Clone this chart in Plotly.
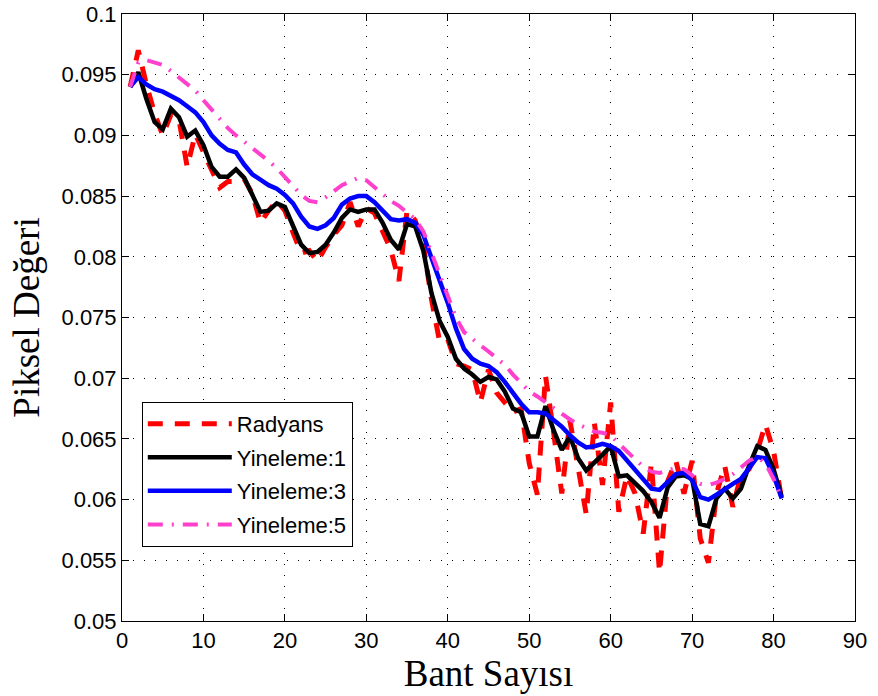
import plotly.graph_objects as go

bands = list(range(1, 82))

radyans = [0.0940, 0.0970, 0.0942, 0.0918, 0.0900, 0.0917, 0.0913, 0.0874, 0.0901, 0.0886,
           0.0872, 0.0857, 0.0862, 0.0862, 0.0864, 0.0852, 0.0828, 0.0838, 0.0846, 0.0838,
           0.0820, 0.0803, 0.0805, 0.0796, 0.0808, 0.0818, 0.0826, 0.0845, 0.0825, 0.0840,
           0.0836, 0.0822, 0.0806, 0.0780, 0.0838, 0.0830, 0.0810, 0.0765, 0.0730, 0.0732,
           0.0712, 0.0710, 0.0707, 0.0680, 0.0707, 0.0688, 0.0680, 0.0672, 0.0675, 0.0630,
           0.0604, 0.0702, 0.0655, 0.0605, 0.0665, 0.0625, 0.0588, 0.0663, 0.0612, 0.0680,
           0.0590, 0.0620, 0.0605, 0.0572, 0.0630, 0.0540, 0.0615, 0.0632, 0.0605, 0.0632,
           0.0568, 0.0548, 0.0605, 0.0628, 0.0594, 0.0620, 0.0625, 0.0640, 0.0662, 0.0640,
           0.0600]

yineleme1 = [0.0940, 0.0952, 0.0930, 0.0911, 0.0905, 0.0922, 0.0915, 0.0899, 0.0904, 0.0892,
             0.0874, 0.0866, 0.0866, 0.0872, 0.0865, 0.0850, 0.0837, 0.0838, 0.0844, 0.0841,
             0.0826, 0.0810, 0.0803, 0.0804, 0.0810, 0.0820, 0.0832, 0.0839, 0.0837, 0.0839,
             0.0839, 0.0828, 0.0814, 0.0806, 0.0827, 0.0825, 0.0805, 0.0770, 0.0747, 0.0734,
             0.0716, 0.0708, 0.0703, 0.0697, 0.0701, 0.0699, 0.0689, 0.0675, 0.0672, 0.0652,
             0.0652, 0.0677, 0.0657, 0.0641, 0.0652, 0.0634, 0.0624, 0.0630, 0.0637, 0.0644,
             0.0619, 0.0620, 0.0613, 0.0607, 0.0598, 0.0585, 0.0610, 0.0619, 0.0620, 0.0617,
             0.0580, 0.0578, 0.0601, 0.0609, 0.0601, 0.0609, 0.0628, 0.0644, 0.0641, 0.0625,
             0.0602]

yineleme3 = [0.0940, 0.0948, 0.0942, 0.0938, 0.0936, 0.0933, 0.0929, 0.0924, 0.0919, 0.0911,
             0.0900, 0.0893, 0.0888, 0.0886, 0.0876, 0.0868, 0.0863, 0.0859, 0.0856, 0.0851,
             0.0844, 0.0833, 0.0825, 0.0823, 0.0826, 0.0832, 0.0843, 0.0848, 0.0850, 0.0850,
             0.0845, 0.0838, 0.0831, 0.0830, 0.0831, 0.0828, 0.0818, 0.0799, 0.0781, 0.0762,
             0.0741, 0.0724, 0.0716, 0.0712, 0.0710, 0.0705, 0.0697, 0.0688, 0.0679, 0.0672,
             0.0672, 0.0671, 0.0666, 0.0660, 0.0653, 0.0647, 0.0643, 0.0644, 0.0646, 0.0644,
             0.0640, 0.0632, 0.0625, 0.0617, 0.0609, 0.0608, 0.0614, 0.0621, 0.0622, 0.0616,
             0.0602, 0.0600, 0.0604, 0.0609, 0.0613, 0.0617, 0.0626, 0.0635, 0.0634, 0.0620,
             0.0601]

yineleme5 = [0.0940, 0.0960, 0.0962, 0.0960, 0.0958, 0.0953, 0.0948, 0.0943, 0.0937, 0.0929,
             0.0921, 0.0913, 0.0906, 0.0900, 0.0895, 0.0889, 0.0884, 0.0879, 0.0873, 0.0866,
             0.0859, 0.0851, 0.0846, 0.0845, 0.0849, 0.0854, 0.0859, 0.0862, 0.0865, 0.0863,
             0.0857, 0.0851, 0.0846, 0.0842, 0.0837, 0.0831, 0.0821, 0.0803, 0.0786, 0.0767,
             0.0750, 0.0738, 0.0732, 0.0727, 0.0722, 0.0717, 0.0711, 0.0703, 0.0696, 0.0689,
             0.0685, 0.0680, 0.0676, 0.0671, 0.0666, 0.0662, 0.0659, 0.0656, 0.0655, 0.0653,
             0.0646, 0.0640, 0.0633, 0.0627, 0.0623, 0.0622, 0.0624, 0.0626, 0.0625, 0.0620,
             0.0613, 0.0612, 0.0614, 0.0617, 0.0621, 0.0626, 0.0632, 0.0635, 0.0630, 0.0617,
             0.0601]

x_ticks = [0, 10, 20, 30, 40, 50, 60, 70, 80, 90]
y_ticks = [0.05, 0.055, 0.06, 0.065, 0.07, 0.075, 0.08, 0.085, 0.09, 0.095, 0.1]
y_tick_labels = ["0.05", "0.055", "0.06", "0.065", "0.07", "0.075", "0.08", "0.085", "0.09", "0.095", "0.1"]

fig = go.Figure()
fig.add_trace(go.Scatter(x=bands, y=radyans, mode="lines", name="Radyans", legendgroup="a",
                         line=dict(color="#ff0000", width=5, dash="15px,12px")))
fig.add_trace(go.Scatter(x=bands, y=yineleme1, mode="lines", name="Yineleme:1", legendgroup="b",
                         line=dict(color="#000000", width=4.5)))
fig.add_trace(go.Scatter(x=bands, y=yineleme3, mode="lines", name="Yineleme:3", legendgroup="c",
                         line=dict(color="#0000ff", width=4.5)))
fig.add_trace(go.Scatter(x=bands, y=yineleme5, mode="lines", name="Yineleme:5", legendgroup="d",
                         line=dict(color="#ff40cc", width=4, dash="15px,9px,2px,9px")))

axis_common = dict(
    showline=True, linecolor="black", linewidth=1, mirror="ticks",
    ticks="inside", ticklen=7, tickcolor="black", tickwidth=1,
    showgrid=True, gridcolor="black", gridwidth=1, griddash="1px,10px",
    zeroline=False, automargin=False, ticklabeloverflow="allow",
    tickfont=dict(family="Liberation Sans, Arial, sans-serif", size=22, color="black"),
)

title_font = dict(family="Liberation Serif, Times New Roman, serif", size=37, color="black")

fig.update_xaxes(range=[0, 90], tickvals=x_ticks,
                 title=dict(text="Bant Sayısı", standoff=4, font=title_font),
                 **axis_common)
fig.update_yaxes(range=[0.05, 0.1], tickvals=y_ticks, ticktext=y_tick_labels,
                 title=dict(text="Piksel Değeri", standoff=10, font=title_font),
                 **axis_common)

fig.update_layout(
    width=878, height=696,
    margin=dict(l=122, r=23, t=14, b=75),
    plot_bgcolor="white", paper_bgcolor="white",
    showlegend=True,
    legend=dict(x=0.027, y=0.361, xanchor="left", yanchor="top",
                bgcolor="white", bordercolor="black", borderwidth=1,
                font=dict(family="Liberation Sans, Arial, sans-serif", size=22, color="black"),
                traceorder="grouped", tracegroupgap=2, itemwidth=84),
)

fig.write_html("out.html",
               config={"displayModeBar": False},
               post_script="document.body.style.margin='0';document.body.style.overflow='hidden';")
